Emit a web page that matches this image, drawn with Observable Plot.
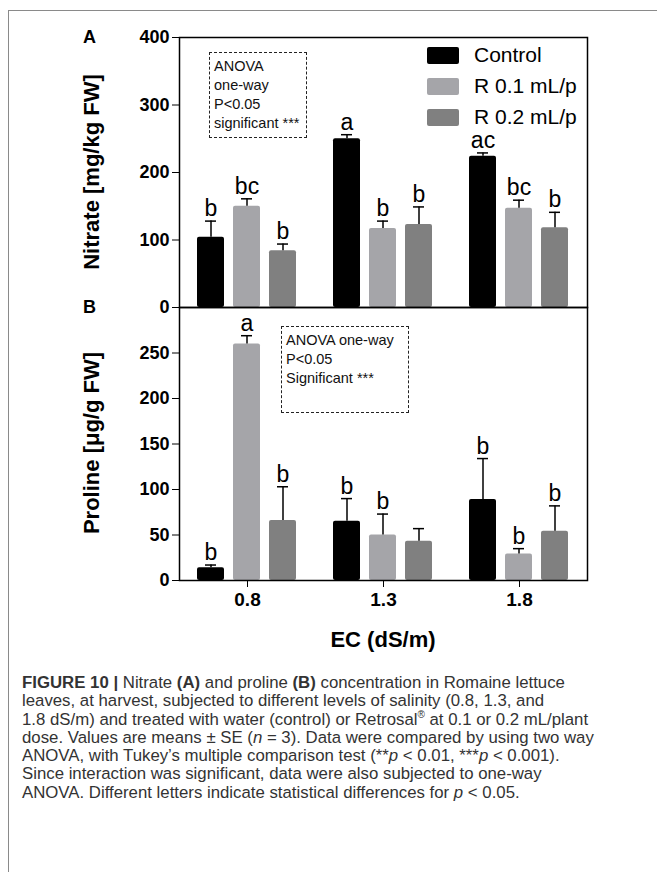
<!DOCTYPE html>
<html>
<head>
<meta charset="utf-8">
<script src="https://cdn.jsdelivr.net/npm/d3@7"></script>
<script src="https://cdn.jsdelivr.net/npm/@observablehq/plot@0.6"></script>
<style>
  html, body { margin: 0; padding: 0; background: #fff; }
  #fig { position: relative; width: 657px; height: 872px; overflow: hidden; font-family: "Liberation Sans", Arial, sans-serif; }
  .abs { position: absolute; }
  .border { left: 8px; top: 10px; right: -5px; bottom: -5px; border-left: 1px solid #8a8a8a; border-top: 1px solid #8a8a8a; }
  .ylab { font-weight: bold; font-size: 22px; white-space: nowrap; transform: translate(-50%, -50%) rotate(-90deg); }
  .panel { font-weight: bold; font-size: 18px; }
  .anova { border: 1.5px dashed #222; font-size: 14.5px; line-height: 19px; padding: 4px 0 0 4px; box-sizing: border-box; color: #111; white-space: nowrap; }
  .leg { font-size: 21px; white-space: nowrap; }
  .sw { position: absolute; width: 32px; height: 17px; border-radius: 2px; }
  .cap { left: 22px; top: 674px; font-size: 16.8px; line-height: 18.3px; color: #333; white-space: nowrap; }
</style>
</head>
<body>
<div id="fig">
  <div class="abs border"></div>
  <div id="top" class="abs" style="left:0;top:0"></div>
  <div id="bot" class="abs" style="left:0;top:300px"></div>
  <div class="abs panel" style="left:83px;top:27px">A</div>
  <div class="abs panel" style="left:83px;top:297px">B</div>
  <div class="abs ylab" style="left:92px;top:172px">Nitrate [mg/kg FW]</div>
  <div class="abs ylab" style="left:92px;top:443px">Proline [μg/g FW]</div>
  <div class="abs" style="left:383px;top:640px;transform:translate(-50%,-50%);font-weight:bold;font-size:22px;white-space:nowrap">EC (dS/m)</div>
  <div class="abs anova" style="left:209px;top:52px;width:98px;height:86px">ANOVA<br>one-way<br>P&lt;0.05<br>significant ***</div>
  <div class="abs anova" style="left:281px;top:326px;width:128px;height:87px">ANOVA one-way<br>P&lt;0.05<br>Significant ***</div>
  <div id="legend"></div>
  <div class="abs cap">
    <b>FIGURE 10 |</b> Nitrate <b>(A)</b> and proline <b>(B)</b> concentration in Romaine lettuce<br>
    leaves, at harvest, subjected to different levels of salinity (0.8, 1.3, and<br>
    1.8 dS/m) and treated with water (control) or Retrosal<sup style="font-size:10px;line-height:0">®</sup> at 0.1 or 0.2 mL/plant<br>
    dose. Values are means ± SE (<i>n</i> = 3). Data were compared by using two way<br>
    ANOVA, with Tukey’s multiple comparison test (**<i>p</i> &lt; 0.01, ***<i>p</i> &lt; 0.001).<br>
    Since interaction was significant, data were also subjected to one-way<br>
    ANOVA. Different letters indicate statistical differences for <i>p</i> &lt; 0.05.
  </div>
</div>
<script>
const ecLevels = ["0.8", "1.3", "1.8"];
const treatments = ["Control", "R 0.1 mL/p", "R 0.2 mL/p"];
const treatmentColors = ["#000000", "#a5a5a9", "#808080"];

const nitrateMean = [104, 150, 84, 250, 117, 123, 224, 147, 118];
const nitrateSE = [24, 11, 10, 6, 11, 26, 5, 12, 23];
const nitrateLetters = ["b", "bc", "b", "a", "b", "b", "ac", "bc", "b"];
const nitrateTicks = [0, 100, 200, 300, 400];

const prolineMean = [14, 260, 66, 65, 50, 43, 89, 29, 54];
const prolineSE = [3, 9, 37, 25, 23, 14, 45, 6, 28];
const prolineLetters = ["b", "a", "b", "b", "b", "", "b", "b", "b"];
const prolineTicks = [0, 50, 100, 150, 200, 250];

function rows(means, ses, letters) {
  const out = [];
  ecLevels.forEach((ec, i) => treatments.forEach((trt, j) => {
    const k = i * treatments.length + j;
    out.push({ec, trt, mean: means[k], upper: means[k] + ses[k], letter: letters[k]});
  }));
  return out;
}

const font = "Liberation Sans, Arial, sans-serif";

function panel(data, yMax, ticks, opts) {
  return Plot.plot({
    width: 657,
    height: opts.height,
    marginTop: opts.marginTop,
    marginBottom: opts.marginBottom,
    marginLeft: 179,
    marginRight: 70,
    style: {background: "none", fontFamily: font, fontSize: "18px", fontWeight: "bold", color: "#000", overflow: "visible"},
    fx: {domain: ecLevels, padding: 0, axis: null},
    x: {domain: treatments, paddingInner: 0.24, paddingOuter: 0.48, axis: null},
    y: {domain: [0, yMax], axis: null},
    color: {domain: treatments, range: treatmentColors},
    marks: [
      Plot.barY(data, {fx: "ec", x: "trt", y: "mean", fill: "trt", rx: 2}),
      Plot.ruleX(data, {fx: "ec", x: "trt", y1: "mean", y2: "upper", stroke: "#000", strokeWidth: 1.5}),
      Plot.tickY(data, {fx: "ec", x: "trt", y: "upper", inset: 8, stroke: "#000", strokeWidth: 1.5}),
      Plot.text(data, {fx: "ec", x: "trt", y: "upper", text: "letter", dy: -5, lineAnchor: "bottom", fontSize: 23, fontWeight: "normal"}),
      Plot.axisY({ticks, tickSize: 7, tickPadding: 3, label: null, tickFormat: d => String(d), fontSize: 18}),
      ...(opts.fxAxis ? [Plot.axisFx({anchor: "bottom", tickSize: 7, tickPadding: 5, label: null, fontSize: 19})] : []),
      Plot.frame({facet: "super", stroke: "#000", strokeWidth: 1.5})
    ]
  });
}

document.getElementById("top").append(
  panel(rows(nitrateMean, nitrateSE, nitrateLetters), 400, nitrateTicks, {height: 310, marginTop: 37, marginBottom: 3, fxAxis: false})
);
document.getElementById("bot").append(
  panel(rows(prolineMean, prolineSE, prolineLetters), 300, prolineTicks, {height: 320, marginTop: 7, marginBottom: 40, fxAxis: true})
);

// legend built from the treatment and colour arrays
const legend = document.getElementById("legend");
const rowTops = [47, 78, 109];
treatments.forEach((t, i) => {
  const sw = document.createElement("div");
  sw.className = "sw";
  sw.style.left = "427px";
  sw.style.top = rowTops[i] + "px";
  sw.style.background = treatmentColors[i];
  legend.append(sw);
  const lab = document.createElement("div");
  lab.className = "abs leg";
  lab.style.left = "474px";
  lab.style.top = (rowTops[i] - 4) + "px";
  lab.textContent = t;
  legend.append(lab);
});
</script>
</body>
</html>
